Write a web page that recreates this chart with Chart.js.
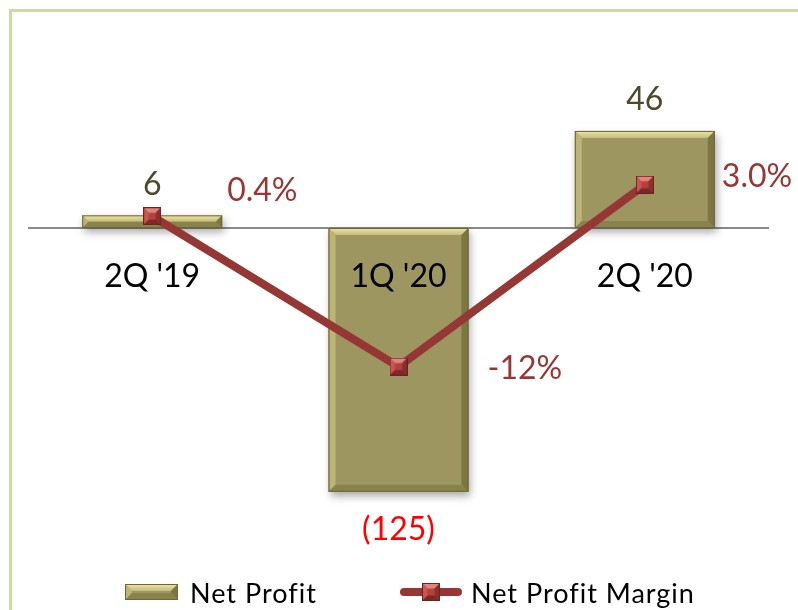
<!DOCTYPE html>
<html>
<head>
<meta charset="utf-8">
<script src="https://cdn.jsdelivr.net/npm/chart.js@4.4.1/dist/chart.umd.min.js"></script>
<style>
  body { margin: 0; background: #fff; }
  #wrap { position: relative; width: 798px; height: 610px; overflow: hidden; }
  #frame { position: absolute; left: 9px; top: 9px; width: 800px; height: 610px;
           border-top: 3px solid #c9dca8; border-left: 3px solid #c9dca8; }
  .leg { position: absolute; top: 577px; height: 30px; display: flex; align-items: center;
         font: 27px Lato, sans-serif; letter-spacing: 1px; color: #000; white-space: nowrap; }
  .leg canvas { display: block; }
</style>
</head>
<body>
<div id="wrap">
  <div id="frame"></div>
  <canvas id="myChart" width="798" height="610"></canvas>
  <div class="leg" style="left:125px"><canvas id="swBar" width="53" height="16"></canvas><span style="margin-left:12px">Net Profit</span></div>
  <div class="leg" style="left:400px"><canvas id="swLine" width="62" height="18"></canvas><span style="margin-left:9px">Net Profit Margin</span></div>
</div>
<script>
// chart values
const categories = ["2Q '19", "1Q '20", "2Q '20"];
const netProfit = [6, -125, 46];
const netProfitLabels = ['6', '(125)', '46'];
const profitMargin = [0.4, -12, 3.0];
const marginLabels = ['0.4%', '-12%', '3.0%'];

const olive = '#9e9660';
const wine = '#953735';

// beveled olive block, like the Excel "bevel" shape effect
function drawBevel(ctx, left, top, w, h) {
    const b = Math.min(7, h / 2, w / 2);
    const r = left + w, bt = top + h;
    ctx.save();
    ctx.fillStyle = olive;
    ctx.fillRect(left, top, w, h);
    // top
    let g = ctx.createLinearGradient(0, top, 0, top + b);
    g.addColorStop(0, '#efe6a8');
    g.addColorStop(1, '#c4bb7c');
    ctx.fillStyle = g;
    ctx.beginPath();
    ctx.moveTo(left, top); ctx.lineTo(r, top); ctx.lineTo(r - b, top + b); ctx.lineTo(left + b, top + b);
    ctx.closePath(); ctx.fill();
    // left
    ctx.fillStyle = '#bdb477';
    ctx.beginPath();
    ctx.moveTo(left, top); ctx.lineTo(left + b, top + b); ctx.lineTo(left + b, bt - b); ctx.lineTo(left, bt);
    ctx.closePath(); ctx.fill();
    // right
    ctx.fillStyle = '#7b7642';
    ctx.beginPath();
    ctx.moveTo(r, top); ctx.lineTo(r, bt); ctx.lineTo(r - b, bt - b); ctx.lineTo(r - b, top + b);
    ctx.closePath(); ctx.fill();
    // bottom
    ctx.fillStyle = '#88834d';
    ctx.beginPath();
    ctx.moveTo(left, bt); ctx.lineTo(r, bt); ctx.lineTo(r - b, bt - b); ctx.lineTo(left + b, bt - b);
    ctx.closePath(); ctx.fill();
    ctx.strokeStyle = '#6c6738';
    ctx.lineWidth = 1;
    ctx.strokeRect(left + 0.5, top + 0.5, w - 1, h - 1);
    ctx.restore();
}

// small pyramid square marker
function drawMarker(ctx, cx, cy, s) {
    const h = s / 2, b = s * 0.3;
    const l = cx - h, t = cy - h, r = cx + h, btm = cy + h;
    ctx.save();
    ctx.fillStyle = '#b4413e';
    ctx.fillRect(l, t, s, s);
    const tri = (pts, c) => {
        ctx.fillStyle = c;
        ctx.beginPath();
        ctx.moveTo(pts[0], pts[1]);
        for (let i = 2; i < pts.length; i += 2) ctx.lineTo(pts[i], pts[i + 1]);
        ctx.closePath(); ctx.fill();
    };
    tri([l, t, r, t, r - b, t + b, l + b, t + b], '#e4837e');
    tri([l, t, l + b, t + b, l + b, btm - b, l, btm], '#c65753');
    tri([r, t, r, btm, r - b, btm - b, r - b, t + b], '#8c2f2c');
    tri([l, btm, r, btm, r - b, btm - b, l + b, btm - b], '#7d2826');
    ctx.strokeStyle = '#6e2220';
    ctx.lineWidth = 1;
    ctx.strokeRect(l + 0.5, t + 0.5, s - 1, s - 1);
    ctx.restore();
}

const markerImg = document.createElement('canvas');
markerImg.width = 18; markerImg.height = 18;
drawMarker(markerImg.getContext('2d'), 9, 9, 18);

// legend swatches
drawBevel(document.getElementById('swBar').getContext('2d'), 0, 0, 53, 16);
(function () {
    const c = document.getElementById('swLine').getContext('2d');
    c.strokeStyle = wine; c.lineWidth = 8; c.lineCap = 'round';
    c.beginPath(); c.moveTo(4, 9); c.lineTo(58, 9); c.stroke();
    drawMarker(c, 31, 9, 18);
})();

const bevelBars = {
    id: 'bevelBars',
    beforeDatasetDraw(chart, args) {
        if (args.index !== 0) return;
        const ctx = chart.ctx;
        ctx.save();
        ctx.shadowColor = 'rgba(0,0,0,0.35)';
        ctx.shadowBlur = 8;
        ctx.shadowOffsetX = 2;
        ctx.shadowOffsetY = 4;
    },
    afterDatasetDraw(chart, args) {
        if (args.index !== 0) return;
        const ctx = chart.ctx;
        ctx.restore();
        args.meta.data.forEach(bar => {
            const p = bar.getProps(['x', 'y', 'base', 'width'], true);
            drawBevel(ctx, p.x - p.width / 2, Math.min(p.y, p.base), p.width, Math.abs(p.base - p.y));
        });
    }
};

const valueLabels = {
    id: 'valueLabels',
    afterDatasetsDraw(chart, args, opts) {
        const ctx = chart.ctx;
        ctx.save();
        ctx.font = '32px Lato, sans-serif';
        ctx.textBaseline = 'middle';
        ctx.textAlign = 'center';
        chart.getDatasetMeta(0).data.forEach((bar, i) => {
            const neg = netProfit[i] < 0;
            ctx.fillStyle = neg ? '#ff0000' : '#4d4a2c';
            ctx.fillText(netProfitLabels[i], bar.x, neg ? bar.y + 38 : bar.y - 31);
        });
        ctx.textAlign = 'left';
        ctx.fillStyle = wine;
        chart.getDatasetMeta(1).data.forEach((pt, i) => {
            const s = opts.shift[i];
            ctx.fillText(marginLabels[i], pt.x + s[0], pt.y + s[1]);
        });
        ctx.restore();
    }
};

const ctx = document.getElementById('myChart');

new Chart(ctx, {
    data: {
        labels: categories,
        datasets: [{
            type: 'bar',
            label: 'Net Profit',
            data: netProfit,
            backgroundColor: olive,
            borderWidth: 0,
            barPercentage: 0.568,
            categoryPercentage: 1,
            yAxisID: 'y',
            order: 1,
            clip: false
        }, {
            type: 'line',
            label: 'Net Profit Margin',
            data: profitMargin,
            borderColor: wine,
            backgroundColor: wine,
            borderWidth: 8,
            tension: 0,
            pointStyle: markerImg,
            pointRadius: 9,
            yAxisID: 'y1',
            order: 0,
            clip: false
        }]
    },
    options: {
        responsive: false,
        animation: false,
        devicePixelRatio: 1,
        layout: { padding: { top: 10, left: 29, right: 30, bottom: 102 } },
        plugins: {
            legend: { display: false },
            tooltip: { enabled: false },
            valueLabels: { shift: [[75, -26], [89, 2], [77, -8]] }
        },
        scales: {
            x: {
                type: 'category',
                position: { y: 0 },
                offset: true,
                grid: { display: false },
                border: { display: true, color: '#8a8a8a', width: 2 },
                ticks: {
                    z: 1,
                    color: '#000',
                    font: { family: 'Lato', size: 32 },
                    padding: 21,
                    maxRotation: 0,
                    autoSkip: false
                }
            },
            y: { display: false, min: -132.7, max: 100 },
            y1: { display: false, position: 'right', min: -23.66, max: 16.83 }
        }
    },
    plugins: [bevelBars, valueLabels]
});
</script>
</body>
</html>
